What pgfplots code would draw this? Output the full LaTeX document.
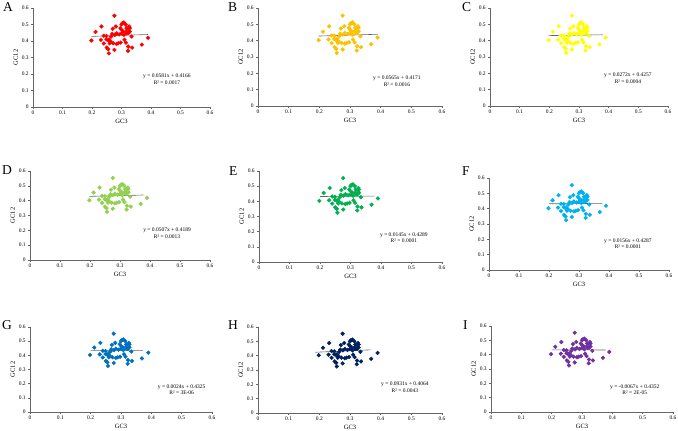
\documentclass[border=0pt]{standalone}
\usepackage{pgfplots}
\usepackage{pgfplotstable}
\pgfplotsset{compat=1.18}
\usepackage{fontspec}
\setmainfont{Liberation Serif}

\definecolor{cA}{RGB}{255,0,0}
\definecolor{cB}{RGB}{255,192,0}
\definecolor{cC}{RGB}{255,255,0}
\definecolor{cD}{RGB}{146,208,80}
\definecolor{cE}{RGB}{0,176,80}
\definecolor{cF}{RGB}{0,176,240}
\definecolor{cG}{RGB}{0,112,192}
\definecolor{cH}{RGB}{0,32,96}
\definecolor{cI}{RGB}{112,48,160}

% GC3 vs GC12 (same genes in every panel)
\pgfplotstableread{
x     y
0.276 0.553
0.232 0.488
0.212 0.455
0.198 0.403
0.230 0.407
0.240 0.432
0.240 0.385
0.250 0.360
0.255 0.350
0.257 0.325
0.276 0.346
0.263 0.397
0.255 0.403
0.265 0.427
0.270 0.474
0.281 0.488
0.277 0.437
0.283 0.447
0.289 0.386
0.297 0.390
0.300 0.500
0.303 0.508
0.308 0.512
0.314 0.500
0.300 0.468
0.306 0.457
0.300 0.447
0.308 0.437
0.315 0.457
0.323 0.472
0.328 0.478
0.323 0.447
0.328 0.457
0.317 0.478
0.334 0.427
0.310 0.407
0.315 0.390
0.323 0.366
0.322 0.340
0.336 0.360
0.369 0.378
0.390 0.419
0.272 0.386
0.283 0.382
0.260 0.386
0.249 0.430
0.249 0.410
0.292 0.440
0.258 0.410
0.326 0.488
0.268 0.443
0.296 0.478
0.318 0.447
}\gcdata

\pgfplotsset{
  panel/.style={
    scale only axis,
    xmin=0, xmax=0.6, ymin=0, ymax=0.6,
    axis lines=left,
    axis line style={-, black!60, line width=0.4pt},
    xtick={0,0.1,0.2,0.3,0.4,0.5,0.6},
    ytick={0,0.1,0.2,0.3,0.4,0.5,0.6},
    tick align=outside, major tick length=1.8pt,
    tick style={black!60, line width=0.4pt},
    /pgf/number format/assume math mode=true,
    tick label style={font=\fontsize{5.5}{6}\selectfont},
    xticklabel style={yshift=1pt},
    yticklabel style={xshift=1pt},
    label style={font=\fontsize{6.5}{7}\selectfont},
    xlabel={GC3}, ylabel={GC12},
    xlabel style={yshift=3pt},
    ylabel style={yshift=-3pt},
    clip=false,
  },
  pts/.style={only marks, mark=*, mark size=1.9pt, color=#1},
  fit/.style={black!60, line width=0.6pt},
}
\tikzset{
  eq/.style={font=\fontsize{5.5}{6.5}\selectfont, anchor=center},
  letter/.style={anchor=base west, font=\fontsize{13.5}{14}\selectfont, inner sep=0pt},
}

\begin{document}
\begin{tikzpicture}
\useasboundingbox (0,0) rectangle (678pt,431pt);

% A
\begin{axis}[panel, at={(33pt,324pt)}, anchor=south west, width=177pt, height=99pt]
\addplot[pts=cA] table {\gcdata};
\addplot[fit] coordinates {(0.198,0.4281) (0.390,0.4393)};
\node[eq] at (axis cs:0.454,0.188) {y = 0.0581x + 0.4166};
\node[eq] at (axis cs:0.454,0.148) {R² = 0.0017};
\end{axis}
% B
\begin{axis}[panel, at={(258pt,325pt)}, anchor=south west, width=184pt, height=98pt]
\addplot[pts=cB] table {\gcdata};
\addplot[fit] coordinates {(0.198,0.4283) (0.390,0.4391)};
\node[eq] at (axis cs:0.453,0.168) {y = 0.0565x + 0.4171};
\node[eq] at (axis cs:0.453,0.130) {R² = 0.0016};
\end{axis}
% C
\begin{axis}[panel, at={(490pt,325pt)}, anchor=south west, width=178pt, height=98pt]
\addplot[pts=cC] table {\gcdata};
\addplot[fit] coordinates {(0.198,0.4311) (0.380,0.4360)};
\node[eq] at (axis cs:0.465,0.186) {y = 0.0272x + 0.4257};
\node[eq] at (axis cs:0.465,0.150) {R² = 0.0004};
\end{axis}
% D
\begin{axis}[panel, at={(30pt,171pt)}, anchor=south west, width=180pt, height=89pt]
\addplot[pts=cD] table {\gcdata};
\addplot[fit] coordinates {(0.198,0.4289) (0.378,0.4381)};
\node[eq] at (axis cs:0.457,0.202) {y = 0.0507x + 0.4189};
\node[eq] at (axis cs:0.457,0.158) {R² = 0.0013};
\end{axis}
% E
\begin{axis}[panel, at={(259pt,169pt)}, anchor=south west, width=183pt, height=91pt]
\addplot[pts=cE] table {\gcdata};
\addplot[fit] coordinates {(0.200,0.4318) (0.378,0.4344)};
\node[eq] at (axis cs:0.475,0.178) {y = 0.0145x + 0.4289};
\node[eq] at (axis cs:0.475,0.138) {R² = 0.0001};
\end{axis}
% F
\begin{axis}[panel, at={(489pt,161pt)}, anchor=south west, width=180pt, height=92pt]
\addplot[pts=cF] table {\gcdata};
\addplot[fit] coordinates {(0.200,0.4318) (0.378,0.4346)};
\node[eq] at (axis cs:0.463,0.189) {y = 0.0156x + 0.4287};
\node[eq] at (axis cs:0.463,0.150) {R² = 0.0001};
\end{axis}
% G
\begin{axis}[panel, at={(30pt,19pt)}, anchor=south west, width=182pt, height=85pt]
\addplot[pts=cG] table {\gcdata};
\addplot[fit] coordinates {(0.200,0.4330) (0.372,0.4334)};
\node[eq] at (axis cs:0.500,0.176) {y = 0.0024x + 0.4325};
\node[eq] at (axis cs:0.500,0.134) {R² = 3E-06};
\end{axis}
% H
\begin{axis}[panel, at={(258pt,18pt)}, anchor=south west, width=184pt, height=86pt]
\addplot[pts=cH] table {\gcdata};
\addplot[fit] coordinates {(0.187,0.4238) (0.367,0.4406)};
\node[eq] at (axis cs:0.479,0.202) {y = 0.0931x + 0.4064};
\node[eq] at (axis cs:0.479,0.156) {R² = 0.0043};
\end{axis}
% I
\begin{axis}[panel, at={(491pt,19pt)}, anchor=south west, width=182pt, height=86pt]
\addplot[pts=cI] table {\gcdata};
\addplot[fit] coordinates {(0.200,0.4339) (0.378,0.4327)};
\node[eq] at (axis cs:0.474,0.174) {y = -0.0067x + 0.4352};
\node[eq] at (axis cs:0.474,0.132) {R² = 2E-05};
\end{axis}

\node[letter] at (3pt,419pt) {A};
\node[letter] at (228pt,419pt) {B};
\node[letter] at (462pt,419pt) {C};
\node[letter] at (2pt,256pt) {D};
\node[letter] at (229pt,255pt) {E};
\node[letter] at (462pt,255pt) {F};
\node[letter] at (2pt,101pt) {G};
\node[letter] at (228pt,101pt) {H};
\node[letter] at (463pt,101pt) {I};
\end{tikzpicture}
\end{document}
